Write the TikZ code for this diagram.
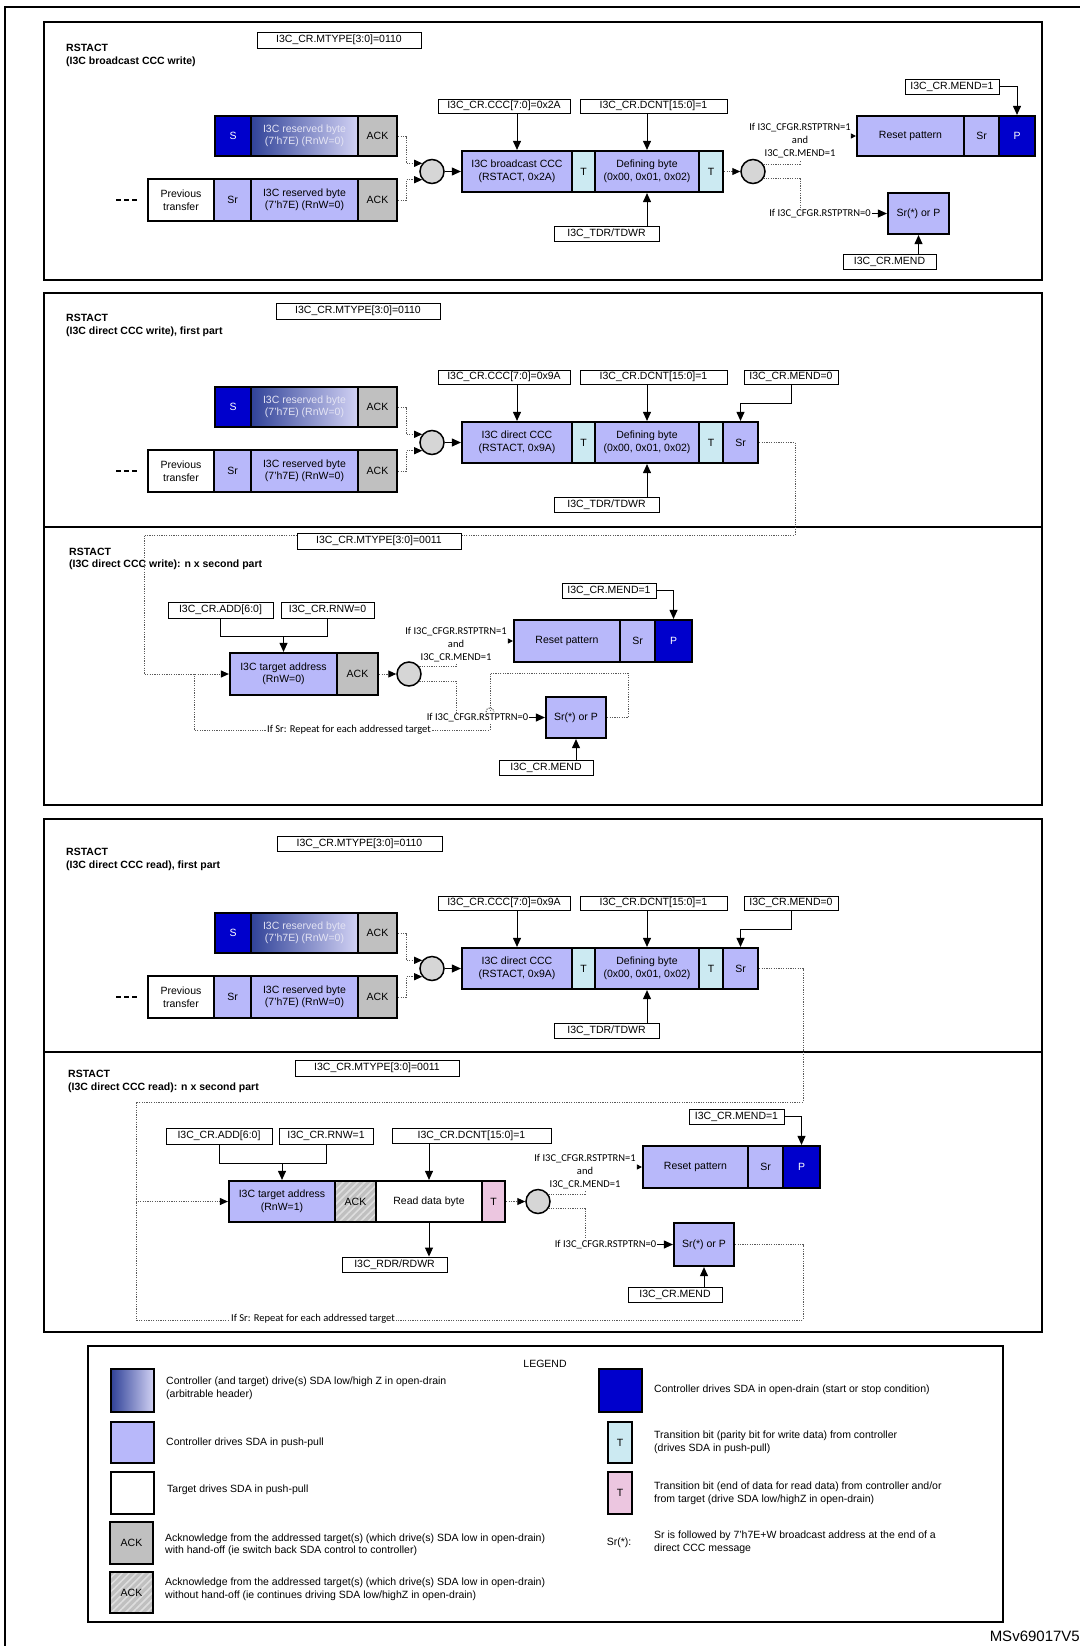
\documentclass[tikz,border=0pt]{standalone}
\usepackage{fontspec}
\setmainfont{Liberation Sans}
\newfontfamily\calib{Carlito}
\usetikzlibrary{arrows.meta,patterns.meta}
\definecolor{dkb}{RGB}{0,0,204}
\definecolor{lav}{RGB}{184,184,250}
\definecolor{ackg}{RGB}{192,192,192}
\definecolor{ackl}{RGB}{222,222,222}
\definecolor{tcy}{RGB}{204,234,242}
\definecolor{tpk}{RGB}{236,198,224}
\definecolor{circg}{RGB}{214,214,214}
\definecolor{gradl}{RGB}{48,66,152}
\definecolor{gradr}{RGB}{210,210,244}
\definecolor{rbtxt}{RGB}{228,228,244}
\definecolor{dotc}{RGB}{90,90,90}
\newcommand\cell[7]{%
 \pgfmathsetmacro\cxx{(#3+#5)/2}%
 \pgfmathsetmacro\cyy{(#4+#6)/2}%
 \pgfmathsetmacro\cww{#5-#3}%
 \pgfmathsetmacro\chh{#6-#4}%
 \node[#2,minimum width=\cww pt,minimum height=\chh pt] (#1) at (\cxx,\cyy) {#7};}
\tikzset{
 tx/.style={font=\fontsize{10.5}{12.5}\selectfont},
 cb/.style={draw, line width=2.2pt, inner sep=0pt, tx, align=center},
 lb/.style={draw, line width=0.9pt, fill=white, inner sep=0pt, tx},
 cond/.style={font=\calib\fontsize{10.5}{13}\selectfont, inner sep=1pt, align=center},
 hdr/.style={font=\bfseries\fontsize{10.5}{12.5}\selectfont, anchor=west, inner sep=0pt},
 frm/.style={draw, line width=1.2pt},
 circ/.style={circle, draw, line width=1.5pt, fill=circg, minimum size=24pt, inner sep=0pt},
 arr/.style={line width=1pt, -{Triangle[length=9pt,width=8pt]}},
 sarr/.style={line width=0.8pt, -{Triangle[length=5pt,width=5pt]}},
 ln/.style={line width=1pt},
 dotl/.style={line width=1pt, dotc, dash pattern=on 1.2pt off 1.2pt},
 darr/.style={dotl, -{Triangle[length=8pt,width=7pt,color=black]}},
 hatch/.style={postaction={pattern={Lines[angle=45,distance=5pt,line width=1.6pt]},pattern color=ackl},
               postaction={draw,line width=2.2pt}},
}
\newcommand\FirstPart[3]{%
 \cell{#1s}{cb,fill=dkb,text=white}{215}{94}{251}{134}{S}
 \cell{#1rb}{cb,left color=gradl,right color=gradr,text=rbtxt}{251}{94}{358}{134}{I3C reserved byte\\(7'h7E) (RnW=0)}
 \cell{#1ak}{cb,fill=ackg}{358}{94}{397}{134}{ACK}
 \cell{#1pv}{cb,fill=white}{148}{157}{214}{199}{Previous\\transfer}
 \cell{#1sr}{cb,fill=lav}{214}{157}{251}{199}{Sr}
 \cell{#1rc}{cb,fill=lav}{251}{157}{358}{199}{I3C reserved byte\\(7'h7E) (RnW=0)}
 \cell{#1al}{cb,fill=ackg}{358}{157}{397}{199}{ACK}
 \draw[line width=2.2pt, dash pattern=on 5pt off 3pt] (116,178) -- (137,178);
 \node[circ] (#1c) at (432,149.5) {};
 \draw[darr] (#1ak.east) -| ([xshift=-16pt]#1c.140) -- (#1c.140);
 \draw[darr] (#1al.east) -| ([xshift=-16pt]#1c.220) -- (#1c.220);
 \cell{#1m}{cb,fill=lav}{462}{129}{572}{170}{#2}
 \cell{#1t1}{cb,fill=tcy}{572}{129}{595}{170}{T}
 \cell{#1db}{cb,fill=lav}{595}{129}{699}{170}{Defining byte\\(0x00, 0x01, 0x02)}
 \cell{#1t2}{cb,fill=tcy}{699}{129}{723}{170}{T}
 \draw[arr] (#1c.east) -- (#1m.west);
 \cell{#1ccc}{lb}{438}{77}{570}{91}{I3C\_CR.CCC[7:0]=#3}
 \cell{#1dc}{lb}{580}{77}{727}{91}{I3C\_CR.DCNT[15:0]=1}
 \cell{#1td}{lb}{554}{204}{659}{219}{I3C\_TDR/TDWR}
 \draw[arr] (#1ccc.south -| #1m.north) -- (#1m.north);
 \draw[arr] (#1dc.south -| #1db.north) -- (#1db.north);
 \draw[arr] (#1td.north -| #1db.south) -- (#1db.south);
}
\newcommand\SrPart[1]{%
 \cell{#1sr3}{cb,fill=lav}{723}{129}{758}{170}{Sr}
 \cell{#1me0}{lb}{744}{77}{838}{91}{I3C\_CR.MEND=0}
 \draw[arr] (#1me0.south) -- ++(0,19) -| (#1sr3.north);
}
\begin{document}
\begin{tikzpicture}[x=1pt,y=-1pt]
\useasboundingbox (0,0) rectangle (1080,1646);
\fill[white] (0,0) rectangle (1080,1646);
\draw[line width=1.2pt] (5,1646) -- (5,7) -- (1080,7);
\draw[frm] (44,22) rectangle (1042,280);
\draw[frm] (44,293) rectangle (1042,805);
\draw[frm] (44,527) -- (1042,527);
\draw[frm] (44,819) rectangle (1042,1332);
\draw[frm] (44,1052) -- (1042,1052);
\draw[frm] (88,1346) rectangle (1003,1622);

% ===== Section 1 =====
\begin{scope}[shift={(0,22)}]
 \FirstPart{a}{I3C broadcast CCC\\(RSTACT, 0x2A)}{0x2A}
\end{scope}
\cell{amt}{lb}{257}{32}{421}{48}{I3C\_CR.MTYPE[3:0]=0110}
\node[hdr] (ah1) at (66,48) {RSTACT};
\node[hdr] (ah2) at (66,62) {(I3C broadcast CCC write)};
\node[circ] (ac2) at (753,171.5) {};
\draw[darr] (at2.east) -- (ac2.west);
\cell{arp}{cb,fill=lav}{857}{116}{964}{156}{Reset pattern}
\cell{asx}{cb,fill=lav}{964}{116}{999}{156}{Sr}
\cell{ap}{cb,fill=dkb,text=white}{999}{116}{1035}{156}{P}
\cell{ame1}{lb}{905}{79}{999}{94}{I3C\_CR.MEND=1}
\draw[arr] (ame1.east) -| (ap.north);
\node[cond] (acd1) at (800,141) {If I3C\_CFGR.RSTPTRN=1\\and\\I3C\_CR.MEND=1};
\node[cond, fill=white] (acd0) at (820,213.5) {If I3C\_CFGR.RSTPTRN=0};
\draw[sarr] (acd1.east |- arp.west) -- (arp.west);
\draw[dotl] (ac2.35) -- (ac2.35 -| acd1.south) -- ++(0,-4);
\draw[dotl] (ac2.-35) -- (ac2.-35 -| acd1.south) -- (acd1.south |- acd0.north);
\cell{asrp}{cb,fill=lav}{888}{193}{949}{234}{Sr(*) or P}
\draw[arr] (acd0.east) -- (asrp.west);
\cell{ame}{lb}{843}{254}{936}{269}{I3C\_CR.MEND}
\draw[arr] (ame.north -| asrp.south) -- (asrp.south);

% ===== Section 2 =====
\begin{scope}[shift={(0,293)}]
 \FirstPart{b}{I3C direct CCC\\(RSTACT, 0x9A)}{0x9A}
 \SrPart{b}
\end{scope}
\cell{bmt}{lb}{276}{303}{440}{319}{I3C\_CR.MTYPE[3:0]=0110}
\node[hdr] (bh1) at (66,318) {RSTACT};
\node[hdr] (bh2) at (66,332) {(I3C direct CCC write), first part};
\node[hdr] (bh3) at (69,552) {RSTACT};
\node[hdr] (bh4) at (69,565) {(I3C direct CCC write): n x second part};
\cell{bta}{cb,fill=lav}{230}{653}{337}{695}{I3C target address\\(RnW=0)}
\cell{back}{cb,fill=ackg}{337}{653}{378}{695}{ACK}
\coordinate (bk1) at (795,535);
\coordinate (bk2) at (144,535);
\draw[darr] (bsr3.east) -| (bk1) -- (bk2) |- (bta.west);
\cell{bmt2}{lb}{297}{533}{461}{549}{I3C\_CR.MTYPE[3:0]=0011}
\cell{badd}{lb}{168}{602}{273}{618}{I3C\_CR.ADD[6:0]}
\cell{brnw}{lb}{281}{602}{374}{618}{I3C\_CR.RNW=0}
\draw[ln] (badd.south) -- ++(0,18) -| (brnw.south);
\draw[arr] ([yshift=-18pt]badd.south -| bta.north) -- (bta.north);
\node[circ] (bc) at (409,674) {};
\draw[darr] (back.east) -- (bc.west);
\cell{brp}{cb,fill=lav}{514}{620}{620}{662}{Reset pattern}
\cell{bsx}{cb,fill=lav}{620}{620}{655}{662}{Sr}
\cell{bp}{cb,fill=dkb,text=white}{655}{620}{692}{662}{P}
\cell{bme1}{lb}{562}{583}{656}{598}{I3C\_CR.MEND=1}
\draw[arr] (bme1.east) -| (bp.north);
\cell{bsrp}{cb,fill=lav}{546}{697}{606}{738}{Sr(*) or P}
\cell{bme}{lb}{499}{760}{593}{775}{I3C\_CR.MEND}
\draw[arr] (bme.north -| bsrp.south) -- (bsrp.south);
\coordinate (bl1) at (628,673);
\coordinate (bl2) at (490,673);
\coordinate (bl3) at (490,730);
\coordinate (bl4) at (194,730);
\draw[dotl] (bsrp.east) -| (bl1) -- (bl2) -- (bl3) -- (bl4) -- (bta.west -| bl4);
\node[cond, fill=white] (brep) at (349,730) {If Sr: Repeat for each addressed target};
\node[cond] (bcd1) at (456,645) {If I3C\_CFGR.RSTPTRN=1\\and\\I3C\_CR.MEND=1};
\node[cond, fill=white] (bcd0) at (477.5,717.5) {If I3C\_CFGR.RSTPTRN=0};
\draw[dotl] (486,712) .. controls (486,706.5) and (494,706.5) .. (494,712);
\draw[dotl] (bc.35) -- (bc.35 -| bcd1.south) -- ++(0,-4);
\draw[dotl] (bc.-35) -- (bc.-35 -| bcd1.south) -- (bcd1.south |- bcd0.north);
\draw[sarr] (bcd1.east |- brp.west) -- (brp.west);
\draw[arr] (bcd0.east) -- (bsrp.west);

% ===== Section 3 =====
\begin{scope}[shift={(0,819)}]
 \FirstPart{c}{I3C direct CCC\\(RSTACT, 0x9A)}{0x9A}
 \SrPart{c}
\end{scope}
\cell{cmt}{lb}{277}{836}{442}{851}{I3C\_CR.MTYPE[3:0]=0110}
\node[hdr] (ch1) at (66,852) {RSTACT};
\node[hdr] (ch2) at (66,866) {(I3C direct CCC read), first part};
\node[hdr] (ch3) at (68,1074) {RSTACT};
\node[hdr] (ch4) at (68,1088) {(I3C direct CCC read): n x second part};
\cell{cmt2}{lb}{295}{1060}{459}{1076}{I3C\_CR.MTYPE[3:0]=0011}
\cell{cta}{cb,fill=lav}{229}{1181}{335}{1222}{I3C target address\\(RnW=1)}
\cell{cack}{cb,fill=ackg,hatch}{335}{1181}{376}{1222}{ACK}
\cell{crd}{cb,fill=white}{376}{1181}{482}{1222}{Read data byte}
\cell{ct}{cb,fill=tpk}{482}{1181}{505}{1222}{T}
\coordinate (ck1) at (803,1102);
\coordinate (ck2) at (136,1102);
\draw[darr] (csr3.east) -| (ck1) -- (ck2) |- (cta.west);
\cell{cadd}{lb}{166}{1128}{272}{1144}{I3C\_CR.ADD[6:0]}
\cell{crnw}{lb}{279}{1128}{373}{1144}{I3C\_CR.RNW=1}
\draw[ln] (cadd.south) -- ++(0,19) -| (crnw.south);
\draw[arr] ([yshift=-19pt]cadd.south -| cta.north) -- (cta.north);
\cell{cdc}{lb}{392}{1128}{551}{1143}{I3C\_CR.DCNT[15:0]=1}
\draw[arr] (cdc.south -| crd.north) -- (crd.north);
\cell{crdr}{lb}{342}{1257}{447}{1272}{I3C\_RDR/RDWR}
\draw[arr] (crd.south) -- (crdr.north -| crd.south);
\node[circ] (cc) at (538,1201.5) {};
\draw[darr] (ct.east) -- (cc.west);
\cell{crp}{cb,fill=lav}{643}{1146}{748}{1188}{Reset pattern}
\cell{csx}{cb,fill=lav}{748}{1146}{783}{1188}{Sr}
\cell{cp}{cb,fill=dkb,text=white}{783}{1146}{820}{1188}{P}
\cell{cme1}{lb}{689}{1109}{784}{1124}{I3C\_CR.MEND=1}
\draw[arr] (cme1.east) -| (cp.north);
\cell{csrp}{cb,fill=lav}{674}{1223}{734}{1266}{Sr(*) or P}
\cell{cme}{lb}{628}{1287}{722}{1302}{I3C\_CR.MEND}
\draw[arr] (cme.north -| csrp.south) -- (csrp.south);
\coordinate (cl1) at (803,1320);
\coordinate (cl2) at (136,1320);
\draw[dotl] (csrp.east) -| (cl1) -- (cl2) -- (cta.west -| cl2);
\node[cond, fill=white] (crep) at (313,1319) {If Sr: Repeat for each addressed target};
\node[cond] (ccd1) at (585,1171.5) {If I3C\_CFGR.RSTPTRN=1\\and\\I3C\_CR.MEND=1};
\node[cond] (ccd0) at (605.5,1244.5) {If I3C\_CFGR.RSTPTRN=0};
\draw[dotl] (cc.35) -- (cc.35 -| ccd1.south) -- ++(0,-4);
\draw[dotl] (cc.-35) -- (cc.-35 -| ccd1.south) -- (ccd1.south |- ccd0.north);
\draw[sarr] (ccd1.east |- crp.west) -- (crp.west);
\draw[arr] (ccd0.east) -- (csrp.west);

% ===== Legend =====
\node[tx, inner sep=0pt] (lgt) at (545,1364) {LEGEND};
\cell{lg1}{cb,left color=gradl,right color=gradr}{111}{1369}{154}{1412}{}
\cell{lg2}{cb,fill=lav}{111}{1422}{154}{1463}{}
\cell{lg3}{cb,fill=white}{111}{1472}{154}{1514}{}
\cell{lg4}{cb,fill=ackg}{110}{1522}{153}{1564}{ACK}
\cell{lg5}{cb,fill=ackg,hatch}{110}{1572}{153}{1613}{ACK}
\cell{lg6}{cb,fill=dkb}{599}{1369}{642}{1412}{}
\cell{lg7}{cb,fill=tcy}{608}{1422}{632}{1463}{T}
\cell{lg8}{cb,fill=tpk}{608}{1472}{632}{1514}{T}
\node[tx, inner sep=0pt] (lg9) at (619,1543) {Sr(*):};
\node[tx, anchor=west, align=left, inner sep=0pt] (lt1) at (166,1388.5) {Controller (and target) drive(s) SDA low/high Z in open-drain\\(arbitrable header)};
\node[tx, anchor=west, align=left, inner sep=0pt] (lt2) at (166,1443) {Controller drives SDA in push-pull};
\node[tx, anchor=west, align=left, inner sep=0pt] (lt3) at (167,1490) {Target drives SDA in push-pull};
\node[tx, anchor=west, align=left, inner sep=0pt] (lt4) at (165,1545) {Acknowledge from the addressed target(s) (which drive(s) SDA low in open-drain)\\with hand-off (ie switch back SDA control to controller)};
\node[tx, anchor=west, align=left, inner sep=0pt] (lt5) at (165,1589.5) {Acknowledge from the addressed target(s) (which drive(s) SDA low in open-drain)\\without hand-off (ie continues driving SDA low/highZ in open-drain)};
\node[tx, anchor=west, align=left, inner sep=0pt] (lt6) at (654,1390) {Controller drives SDA in open-drain (start or stop condition)};
\node[tx, anchor=west, align=left, inner sep=0pt] (lt7) at (654,1442.5) {Transition bit (parity bit for write data) from controller\\(drives SDA in push-pull)};
\node[tx, anchor=west, align=left, inner sep=0pt] (lt8) at (654,1493.5) {Transition bit (end of data for read data) from controller and/or\\from target (drive SDA low/highZ in open-drain)};
\node[tx, anchor=west, align=left, inner sep=0pt] (lt9) at (654,1542.5) {Sr is followed by 7'h7E+W broadcast address at the end of a\\direct CCC message};
\node[anchor=east, font=\fontsize{15}{18}\selectfont, inner sep=0pt] (msv) at (1080,1636) {MSv69017V5};
\end{tikzpicture}
\end{document}
